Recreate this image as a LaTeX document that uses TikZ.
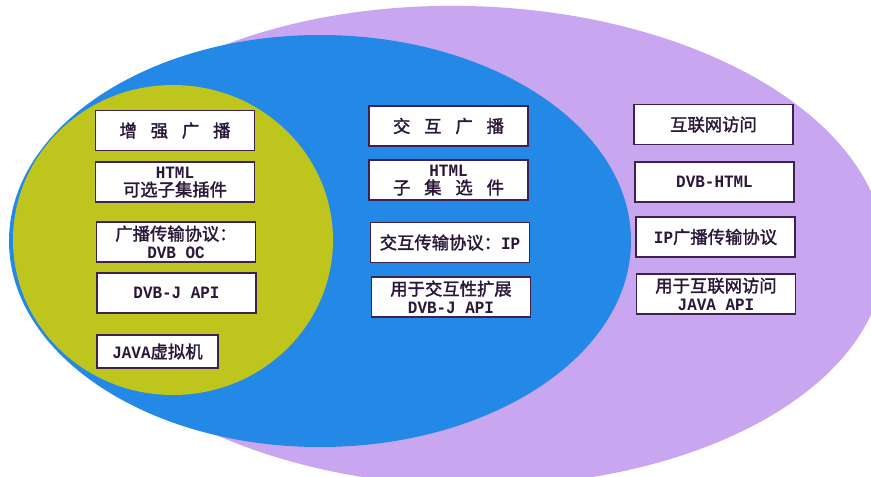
\documentclass[tikz,border=0pt]{standalone}
\usepackage{fontspec}
\newfontfamily\cjkfont[AutoFakeBold=1.8]{Noto Sans CJK SC}
\newfontfamily\dvbmono[FakeStretch=0.92]{Liberation Mono}
\newcommand\zhtxt[1]{{\cjkfont\bfseries #1}}
\newcommand\entxt[1]{{\dvbmono\bfseries #1}}
\newcommand\zsp{\hspace{0.8em}}
\definecolor{lav}{HTML}{C8A6F0}
\definecolor{blu}{HTML}{2388E6}
\definecolor{yel}{HTML}{BEC61E}
\definecolor{boxline}{HTML}{3D2250}
\definecolor{txt}{HTML}{2B1838}
\begin{document}
\begin{tikzpicture}[x=0.75pt,y=-0.75pt,
  box/.style={draw=boxline, fill=white, line width=1.2pt,
    minimum width=119pt, minimum height=30pt, inner sep=0pt,
    align=center, text=txt, font=\fontsize{13}{13.5}\selectfont},
  smallbox/.style={box, minimum width=90.75pt, minimum height=24.75pt}]
\useasboundingbox (0,0) rectangle (871,476);
% regions
\fill[lav, rotate around={-1.5:(465,246)}] (465,246) ellipse [x radius=315pt, y radius=180pt];
\fill[blu] (320,241) ellipse [x radius=233.25pt, y radius=154.5pt];
\fill[yel] (173,240) ellipse [x radius=120pt, y radius=116.25pt];
% left column
\node[box] (l1) at (175,130.5) {\zhtxt{增\zsp 强\zsp 广\zsp 播}};
\node[box] (l2) at (175,182) {\entxt{HTML}\\\zhtxt{可选子集插件}};
\node[box] (l3) at (176,242) {\zhtxt{广播传输协议：}\\\entxt{DVB OC}};
\node[box] (l4) at (176.5,293) {\entxt{DVB-J API}};
\node[smallbox] (l5) at (157.5,351.5) {\entxt{JAVA}\zhtxt{虚拟机}};
% middle column
\node[box] (m1) at (448.5,126) {\zhtxt{交\zsp 互\zsp 广\zsp 播}};
\node[box] (m2) at (448.5,180) {\entxt{HTML}\\\zhtxt{子\zsp 集\zsp 选\zsp 件}};
\node[box] (m3) at (450,242.5) {\zhtxt{交互传输协议：}\entxt{IP}};
\node[box] (m4) at (451,297) {\zhtxt{用于交互性扩展}\\\entxt{DVB-J API}};
% right column
\node[box] (r1) at (713.5,124.5) {\zhtxt{互联网访问}};
\node[box] (r2) at (714.5,182) {\entxt{DVB-HTML}};
\node[box] (r3) at (715.5,237) {\entxt{IP}\zhtxt{广播传输协议}};
\node[box] (r4) at (716,294) {\zhtxt{用于互联网访问}\\\entxt{JAVA API}};
\end{tikzpicture}
\end{document}
